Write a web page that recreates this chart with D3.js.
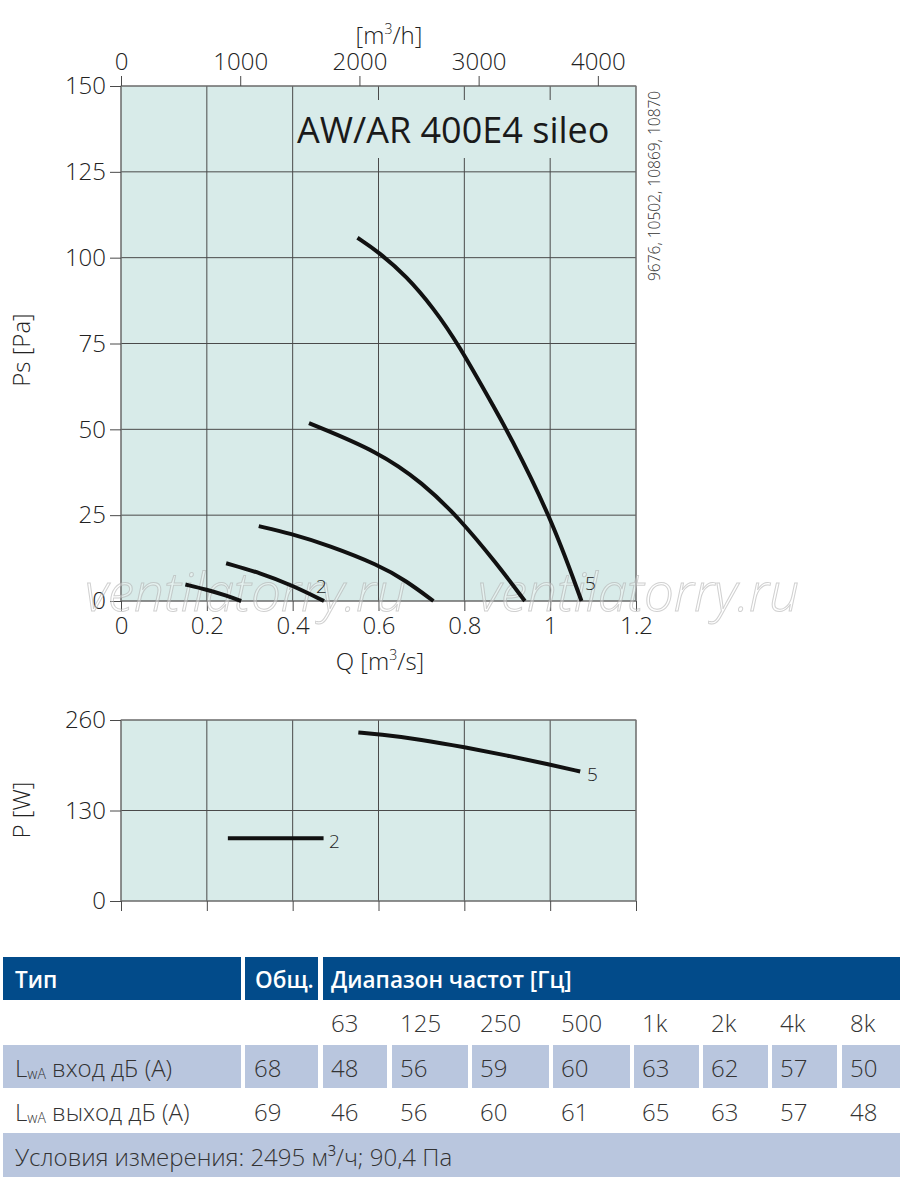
<!DOCTYPE html>
<html>
<head>
<meta charset="utf-8">
<script src="https://cdn.jsdelivr.net/npm/d3@7"></script>
<style>
  body { margin: 0; background: #fff; }
  svg text { font-family: "Open Sans", "Noto Sans", sans-serif; }
</style>
</head>
<body>
<svg id="chart" width="900" height="1182"></svg>
<script>
// axis ticks
var qTicks = [0, 0.2, 0.4, 0.6, 0.8, 1, 1.2];
var psTicks = [0, 25, 50, 75, 100, 125, 150];
var flowTicks = [0, 1000, 2000, 3000, 4000];
var powerTicks = [0, 130, 260];

// pressure curves, [Q m3/s, Ps Pa]
var psCurve1 = [[0.15, 4.8], [0.2, 3.3], [0.245, 1.6], [0.28, 0]];
var psCurve2 = [[0.245, 11], [0.324, 8.2], [0.4, 4.5], [0.473, 0]];
var psCurve3 = [[0.321, 21.8], [0.394, 19.7], [0.484, 16.2], [0.6, 10.5], [0.663, 6], [0.728, 0]];
var psCurve4 = [[0.438, 51.8], [0.6, 43.5], [0.704, 34.3], [0.785, 24.5], [0.875, 11], [0.941, 0]];
var psCurve5 = [[0.551, 105.8], [0.6, 101.7], [0.666, 94.5], [0.728, 85.3], [0.784, 75.3],
                [0.879, 54.2], [0.899, 49.8], [1.0, 25], [1.073, 0]];

// power curves, [Q m3/s, P W]
var powerCurve2 = [[0.249, 90], [0.472, 90]];
var powerCurve5 = [[0.553, 242], [0.6, 239.5], [0.7, 232], [0.8, 221], [0.9, 209], [1.0, 196], [1.07, 186]];

// sound table
var freqBands = ['63', '125', '250', '500', '1k', '2k', '4k', '8k'];
var inletTotal = 68;
var inletBands = [48, 56, 59, 60, 63, 62, 57, 50];
var outletTotal = 69;
var outletBands = [46, 56, 60, 61, 65, 63, 57, 48];
var conditionsText = 'Условия измерения: 2495 м³/ч; 90,4 Па';

var svg = d3.select('#chart');
var plotFill = '#d8ebe9';
var gridColor = '#4a4a4a';
var frameColor = '#7a7a7a';

var xQ = d3.scaleLinear().domain([0, 1.2]).range([121, 636]);
var xFlow = d3.scaleLinear().domain([0, 1.2 * 3600]).range([121, 636]);
var yPs = d3.scaleLinear().domain([0, 150]).range([601, 86]);
var yP = d3.scaleLinear().domain([0, 260]).range([901, 720]);

function styleAxis(g) {
  g.select('.domain').remove();
  g.selectAll('line').attr('stroke', gridColor);
  g.selectAll('text')
    .attr('font-size', 24)
    .attr('font-weight', 300)
    .attr('fill', '#222');
}

function qFormat(d) {
  return (d === 0 || d === 1) ? String(d) : d3.format('.1f')(d);
}

function drawPanel(yScale, yTicks, top, bottom) {
  var panel = svg.append('g');
  panel.append('rect')
    .attr('x', xQ(0)).attr('y', top)
    .attr('width', xQ(1.2) - xQ(0)).attr('height', bottom - top)
    .attr('fill', plotFill);

  panel.append('g')
    .selectAll('line')
    .data(qTicks)
    .join('line')
    .attr('x1', function(d) { return xQ(d); })
    .attr('x2', function(d) { return xQ(d); })
    .attr('y1', top)
    .attr('y2', bottom)
    .attr('stroke', gridColor);

  panel.append('g')
    .selectAll('line')
    .data(yTicks)
    .join('line')
    .attr('x1', xQ(0))
    .attr('x2', xQ(1.2))
    .attr('y1', function(d) { return yScale(d); })
    .attr('y2', function(d) { return yScale(d); })
    .attr('stroke', gridColor);

  panel.append('rect')
    .attr('x', xQ(0)).attr('y', top)
    .attr('width', xQ(1.2) - xQ(0)).attr('height', bottom - top)
    .attr('fill', 'none')
    .attr('stroke', frameColor);
  return panel;
}

// ---------- pressure chart ----------
drawPanel(yPs, psTicks, yPs(150), yPs(0));

// title box hides the grid behind it
svg.append('rect')
  .attr('x', 296).attr('y', 100)
  .attr('width', 339).attr('height', 58)
  .attr('fill', plotFill);
svg.append('text')
  .attr('x', 297).attr('y', 143)
  .attr('font-size', 36)
  .attr('font-weight', 500)
  .attr('fill', '#1a1a1a')
  .text('AW/AR 400E4 sileo');

svg.append('g')
  .attr('transform', 'translate(' + xQ(0) + ',0)')
  .call(d3.axisLeft(yPs).tickValues(psTicks).tickSize(11).tickPadding(4))
  .call(styleAxis);

svg.append('g')
  .attr('transform', 'translate(0,' + yPs(0) + ')')
  .call(d3.axisBottom(xQ).tickValues(qTicks).tickSize(10).tickPadding(6).tickFormat(qFormat))
  .call(styleAxis);

svg.append('g')
  .attr('transform', 'translate(0,' + yPs(150) + ')')
  .call(d3.axisTop(xFlow).tickValues(flowTicks).tickSize(10).tickPadding(6).tickFormat(d3.format('d')))
  .call(styleAxis);

var lineGen = function(ys) {
  return d3.line()
    .x(function(d) { return xQ(d[0]); })
    .y(function(d) { return ys(d[1]); })
    .curve(d3.curveBasis);
};

// watermark (under the curves)
svg.append('g')
  .selectAll('text')
  .data([85, 478])
  .join('text')
  .attr('x', function(d) { return d; })
  .attr('y', 611)
  .attr('font-size', 53)
  .attr('font-style', 'italic')
  .attr('font-weight', 300)
  .attr('fill', 'rgba(255,255,255,0.35)')
  .attr('stroke', 'rgba(170,170,170,0.55)')
  .attr('stroke-width', 1)
  .text('ventilatorry.ru');

svg.append('g')
  .selectAll('path')
  .data([psCurve1, psCurve2, psCurve3, psCurve4, psCurve5])
  .join('path')
  .attr('d', lineGen(yPs))
  .attr('fill', 'none')
  .attr('stroke', '#111')
  .attr('stroke-width', 4)
  .attr('stroke-linecap', 'butt');

svg.append('text').attr('x', 316).attr('y', 593)
  .attr('font-size', 19).attr('font-weight', 300).attr('fill', '#222').text('2');
svg.append('text').attr('x', 585).attr('y', 590)
  .attr('font-size', 19).attr('font-weight', 300).attr('fill', '#222').text('5');

// axis titles
svg.append('text')
  .attr('transform', 'translate(30,350) rotate(-90)')
  .attr('text-anchor', 'middle')
  .attr('font-size', 24).attr('font-weight', 300).attr('fill', '#222')
  .text('Ps [Pa]');

var qLabel = svg.append('text')
  .attr('x', 380).attr('y', 670)
  .attr('text-anchor', 'middle')
  .attr('font-size', 24).attr('font-weight', 300).attr('fill', '#222');
qLabel.append('tspan').text('Q [m');
qLabel.append('tspan').attr('font-size', 14).attr('dy', -10).text('3');
qLabel.append('tspan').attr('dy', 10).text('/s]');

var hLabel = svg.append('text')
  .attr('x', 389).attr('y', 44)
  .attr('text-anchor', 'middle')
  .attr('font-size', 24).attr('font-weight', 300).attr('fill', '#222');
hLabel.append('tspan').text('[m');
hLabel.append('tspan').attr('font-size', 14).attr('dy', -10).text('3');
hLabel.append('tspan').attr('dy', 10).text('/h]');

svg.append('text')
  .attr('transform', 'translate(660,281) rotate(-90)')
  .attr('font-size', 15.5).attr('font-weight', 300).attr('fill', '#333')
  .text('9676, 10502, 10869, 10870');

// ---------- power chart ----------
drawPanel(yP, powerTicks, yP(260), yP(0));

svg.append('g')
  .attr('transform', 'translate(' + xQ(0) + ',0)')
  .call(d3.axisLeft(yP).tickValues(powerTicks).tickSize(11).tickPadding(4))
  .call(styleAxis);

svg.append('g')
  .attr('transform', 'translate(0,' + yP(0) + ')')
  .call(d3.axisBottom(xQ).tickValues(qTicks).tickSize(10).tickFormat(''))
  .call(styleAxis);

svg.append('g')
  .selectAll('path')
  .data([powerCurve2, powerCurve5])
  .join('path')
  .attr('d', lineGen(yP))
  .attr('fill', 'none')
  .attr('stroke', '#111')
  .attr('stroke-width', 4);

svg.append('text').attr('x', 329).attr('y', 848)
  .attr('font-size', 19).attr('font-weight', 300).attr('fill', '#222').text('2');
svg.append('text').attr('x', 587).attr('y', 781)
  .attr('font-size', 19).attr('font-weight', 300).attr('fill', '#222').text('5');

svg.append('text')
  .attr('transform', 'translate(30,810) rotate(-90)')
  .attr('text-anchor', 'middle')
  .attr('font-size', 24).attr('font-weight', 300).attr('fill', '#222')
  .text('P [W]');

// ---------- sound table ----------
var headBlue = '#024b8a';
var rowBlue = '#b9c6de';
var cols = [[3, 241], [245, 318], [323, 387], [392, 468], [472, 549], [553, 630],
            [634, 699], [703, 768], [772, 837], [842, 900]];
var rows = { head: [957, 1000], freq: [1000, 1045], inlet: [1045, 1088], outlet: [1088, 1133], cond: [1133, 1177] };
var table = svg.append('g');

// header
[[cols[0][0], cols[0][1]], [cols[1][0], cols[1][1]], [cols[2][0], 900]].forEach(function(c) {
  table.append('rect')
    .attr('x', c[0]).attr('y', rows.head[0])
    .attr('width', c[1] - c[0]).attr('height', rows.head[1] - rows.head[0])
    .attr('fill', headBlue);
});
[['Тип', cols[0][0] + 12], ['Общ.', cols[1][0] + 10], ['Диапазон частот [Гц]', cols[2][0] + 8]].forEach(function(h) {
  table.append('text')
    .attr('x', h[1]).attr('y', 988)
    .attr('font-size', 22.5).attr('font-weight', 600).attr('fill', '#fff')
    .text(h[0]);
});

function cellText(x, y, t) {
  return table.append('text')
    .attr('x', x).attr('y', y)
    .attr('font-size', 24).attr('font-weight', 300).attr('fill', '#333')
    .text(t);
}

// frequency row
freqBands.forEach(function(f, i) { cellText(cols[i + 2][0] + 8, 1032, f); });

// inlet row
cols.forEach(function(c) {
  table.append('rect')
    .attr('x', c[0]).attr('y', rows.inlet[0])
    .attr('width', c[1] - c[0]).attr('height', rows.inlet[1] - rows.inlet[0])
    .attr('fill', rowBlue);
});

function lwaLabel(y, word) {
  var t = cellText(cols[0][0] + 12, y, 'L');
  t.append('tspan').attr('font-size', 14).attr('dy', 2).text('wA');
  t.append('tspan').attr('dy', -2).text(' ' + word + ' дБ (A)');
}
lwaLabel(1077, 'вход');
cellText(cols[1][0] + 9, 1077, inletTotal);
inletBands.forEach(function(v, i) { cellText(cols[i + 2][0] + 8, 1077, v); });

lwaLabel(1121, 'выход');
cellText(cols[1][0] + 9, 1121, outletTotal);
outletBands.forEach(function(v, i) { cellText(cols[i + 2][0] + 8, 1121, v); });

// conditions row
table.append('rect')
  .attr('x', 3).attr('y', rows.cond[0])
  .attr('width', 897).attr('height', rows.cond[1] - rows.cond[0])
  .attr('fill', rowBlue);
cellText(15, 1166, conditionsText);
</script>
</body>
</html>
